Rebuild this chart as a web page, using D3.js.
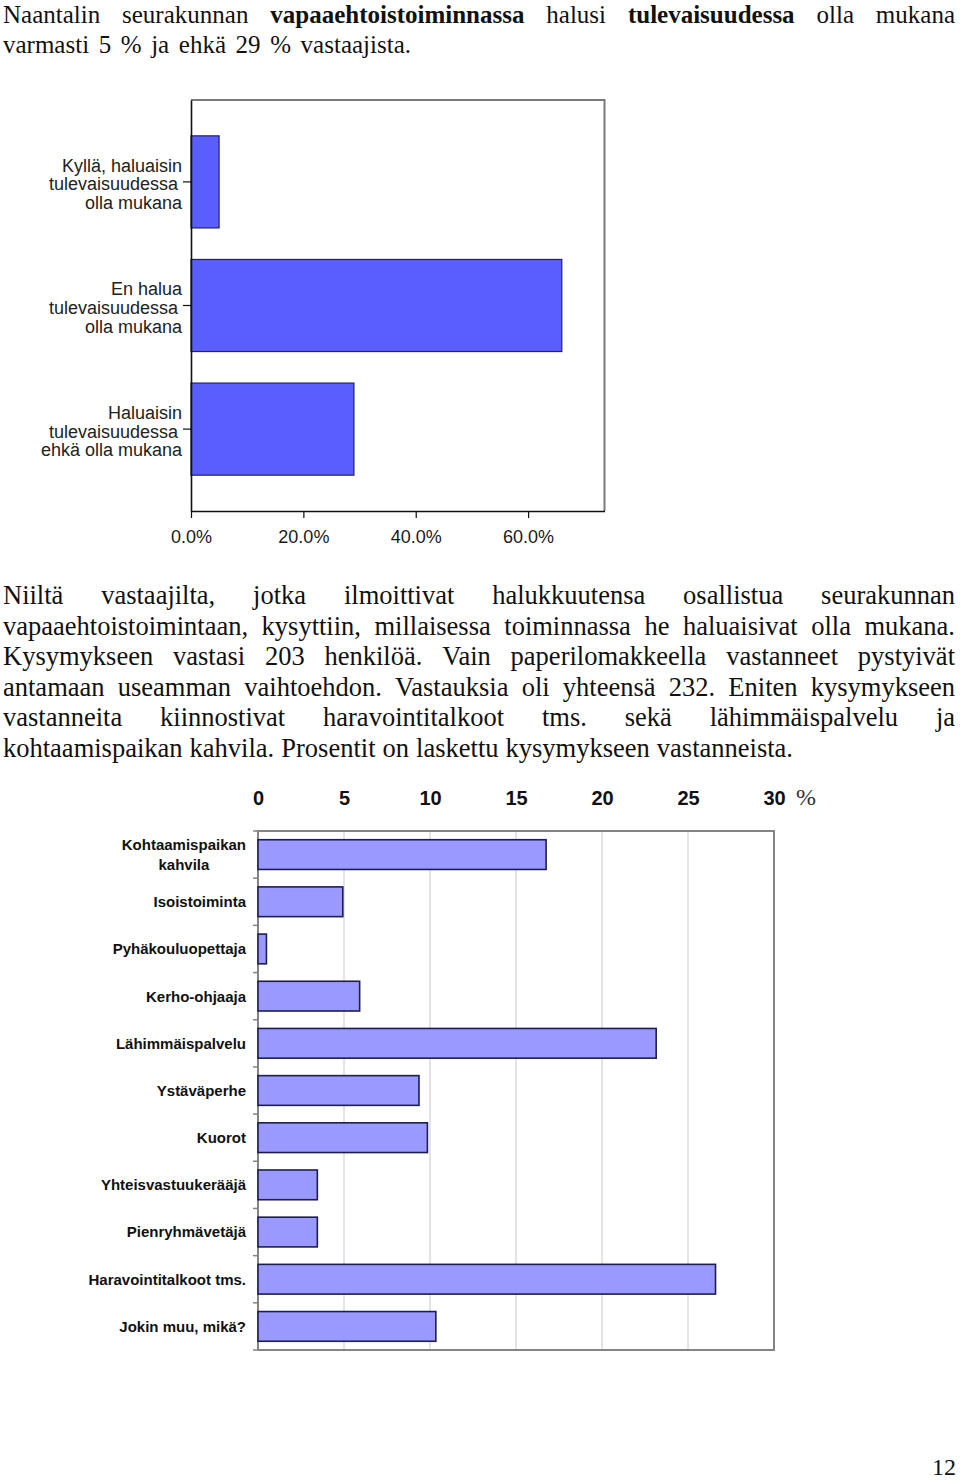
<!DOCTYPE html>
<html><head><meta charset="utf-8">
<script src="https://cdn.jsdelivr.net/npm/d3@7"></script>
<style>body{margin:0;background:#fff} svg{display:block}</style>
</head><body>
<svg id="c" width="960" height="1482"></svg>
<script>
// ---- data ----
const titleLines = [
  "Naantalin seurakunnan **vapaaehtoistoiminnassa** halusi **tulevaisuudessa** olla mukana",
  "varmasti 5 % ja ehkä 29 % vastaajista."
];
const paragraphLines = [
  "Niiltä vastaajilta, jotka ilmoittivat halukkuutensa osallistua seurakunnan",
  "vapaaehtoistoimintaan, kysyttiin, millaisessa toiminnassa he haluaisivat olla mukana.",
  "Kysymykseen vastasi 203 henkilöä. Vain paperilomakkeella vastanneet pystyivät",
  "antamaan useamman vaihtoehdon. Vastauksia oli yhteensä 232. Eniten kysymykseen",
  "vastanneita kiinnostivat haravointitalkoot tms. sekä lähimmäispalvelu ja",
  "kohtaamispaikan kahvila. Prosentit on laskettu kysymykseen vastanneista."
];
const introCategories = [
  "Kyllä, haluaisin\ntulevaisuudessa\nolla mukana",
  "En halua\ntulevaisuudessa\nolla mukana",
  "Haluaisin\ntulevaisuudessa\nehkä olla mukana"
];
const introValues = [0.05, 0.66, 0.29];
const introTicks = [0, 0.2, 0.4, 0.6];
const activityCategories = [
  "Kohtaamispaikan\nkahvila", "Isoistoiminta", "Pyhäkouluopettaja", "Kerho-ohjaaja",
  "Lähimmäispalvelu", "Ystäväperhe", "Kuorot", "Yhteisvastuukerääjä",
  "Pienryhmävetäjä", "Haravointitalkoot tms.", "Jokin muu, mikä?"
];
const activityValues = [16.75, 4.93, 0.49, 5.91, 23.15, 9.36, 9.85, 3.45, 3.45, 26.60, 10.34];
const activityTicks = [0, 5, 10, 15, 20, 25, 30];
const pageNumber = "12";

// ---- helpers ----
const svg = d3.select("#c");
const SERIF = "'Liberation Serif','Times New Roman',serif";
const SANS = "'Liberation Sans',Arial,sans-serif";
const FS = 26.5;
const FS_TITLE = 25;

function justify(g, line, x0, x1, y, fs) {
  const words = line.split(" ");
  const nodes = words.map(w => {
    const bold = w.startsWith("**");
    return g.append("text").attr("y", y).attr("font-size", fs)
      .attr("font-weight", bold ? "bold" : "normal")
      .text(w.replace(/\*\*/g, ""));
  });
  const widths = nodes.map(n => n.node().getComputedTextLength());
  const total = d3.sum(widths);
  const gaps = words.length - 1;
  const avail = x1 - x0;
  const minGap = fs * 0.25;
  let s = 1;
  if (total + gaps * minGap > avail) s = (avail - gaps * minGap) / total;
  const gap = gaps ? (avail - total * s) / gaps : 0;
  let x = x0;
  nodes.forEach((n, i) => {
    n.attr("x", x);
    if (s < 1) n.attr("textLength", widths[i] * s).attr("lengthAdjust", "spacingAndGlyphs");
    x += widths[i] * s + gap;
  });
}

// ---- text blocks ----
const tg = svg.append("g").attr("font-family", SERIF).attr("fill", "#111");
justify(tg, titleLines[0], 3, 955, 23, FS_TITLE);
justify(tg, titleLines[1], 3, 411, 53, FS_TITLE);
const pEnds = [955, 955, 955, 955, 955, 793];
paragraphLines.forEach((l, i) => justify(tg, l, 3, pEnds[i], 604 + i * 30.5, FS));
svg.append("text").attr("x", 956).attr("y", 1475).attr("text-anchor", "end")
  .attr("font-family", SERIF).attr("font-size", 24).attr("fill", "#111").text(pageNumber);

// ---- chart 1 ----
{
  const x = d3.scaleLinear().domain([0, 0.736]).range([191, 604.5]);
  const y = d3.scaleBand().domain(introCategories).range([100, 511])
    .paddingInner(0.255).paddingOuter(0.29);
  const g = svg.append("g");
  g.append("path").attr("d", `M${x.range()[0]},100H${x.range()[1]}V511`)
    .attr("fill", "none").attr("stroke", "#7a7a7a").attr("stroke-width", 2);
  g.selectAll("rect").data(introValues).join("rect")
    .attr("x", x(0)).attr("y", (d, i) => y(introCategories[i]))
    .attr("width", d => x(d) - x(0)).attr("height", y.bandwidth())
    .attr("fill", "#5b5eff").attr("stroke", "#23235a").attr("stroke-width", 1.2);
  const ax = g.append("g").attr("transform", "translate(0,511)")
    .call(d3.axisBottom(x).tickValues(introTicks).tickFormat(d3.format(".1%"))
      .tickSize(7).tickSizeOuter(0).tickPadding(12));
  ax.select(".domain").attr("stroke", "#111").attr("stroke-width", 1.6);
  ax.selectAll(".tick line").attr("stroke", "#111").attr("stroke-width", 1.2);
  ax.selectAll("text").attr("font-family", SANS).attr("font-size", 18).attr("fill", "#1a1a1a");
  const ay = g.append("g").attr("transform", "translate(191,0)")
    .call(d3.axisLeft(y).tickSize(8).tickSizeOuter(0).tickFormat(""));
  ay.select(".domain").attr("stroke", "#111").attr("stroke-width", 1.6);
  ay.selectAll(".tick line").attr("stroke", "#111").attr("stroke-width", 1.2);
  introCategories.forEach(c => {
    const lines = c.split("\n");
    const cy = y(c) + y.bandwidth() / 2;
    lines.forEach((l, i) => {
      g.append("text").attr("x", i === 1 ? 178 : 182)
        .attr("y", cy + 2 + (i - 1) * 18.6).attr("dy", "0.36em")
        .attr("text-anchor", "end").attr("font-family", SANS).attr("font-size", 18)
        .attr("fill", "#222").text(l);
    });
  });
}

// ---- chart 2 ----
{
  const x = d3.scaleLinear().domain([0, 30]).range([258, 774]);
  const y = d3.scaleBand().domain(activityCategories).range([831, 1350])
    .paddingInner(0.37).paddingOuter(0.185);
  const g = svg.append("g");
  g.selectAll("line.grid").data(activityTicks.slice(1, -1)).join("line")
    .attr("class", "grid").attr("x1", d => x(d)).attr("x2", d => x(d))
    .attr("y1", 831).attr("y2", 1350).attr("stroke", "#c8c8c8").attr("stroke-width", 1);
  g.append("rect").attr("x", x(0)).attr("y", 831).attr("width", x(30) - x(0)).attr("height", 1350 - 831)
    .attr("fill", "none").attr("stroke", "#848484").attr("stroke-width", 2);
  const step = y.step();
  g.selectAll("line.bt").data(d3.range(activityCategories.length + 1)).join("line")
    .attr("class", "bt").attr("x1", x(0) - 5).attr("x2", x(0))
    .attr("y1", k => 831 + k * step).attr("y2", k => 831 + k * step)
    .attr("stroke", "#848484").attr("stroke-width", 1.5);
  g.selectAll("rect.bar").data(activityValues).join("rect").attr("class", "bar")
    .attr("x", x(0)).attr("y", (d, i) => y(activityCategories[i]))
    .attr("width", d => x(d) - x(0)).attr("height", y.bandwidth())
    .attr("fill", "#9999ff").attr("stroke", "#1e1e4e").attr("stroke-width", 1.6);
  const at = g.append("g").attr("transform", "translate(0,812)")
    .call(d3.axisTop(x).tickValues(activityTicks).tickSize(0).tickPadding(7));
  at.select(".domain").remove();
  at.selectAll("text").attr("font-family", SANS).attr("font-size", 20)
    .attr("font-weight", "bold").attr("fill", "#111");
  g.append("text").attr("x", x(30) + 22).attr("y", 805).attr("font-family", SERIF)
    .attr("font-size", 24).attr("fill", "#333").text("%");
  activityCategories.forEach(c => {
    const lines = c.split("\n");
    const cy = y(c) + y.bandwidth() / 2;
    const ts = lines.map((l, i) => g.append("text")
      .attr("y", cy + (i - (lines.length - 1) / 2) * 20.5).attr("dy", "0.36em")
      .attr("font-family", SANS).attr("font-size", 15).attr("font-weight", "bold")
      .attr("fill", "#111").text(l));
    const maxW = d3.max(ts, t => t.node().getComputedTextLength());
    ts.forEach(t => t.attr("text-anchor", "middle").attr("x", 246 - maxW / 2));
  });
}
</script>
</body></html>
